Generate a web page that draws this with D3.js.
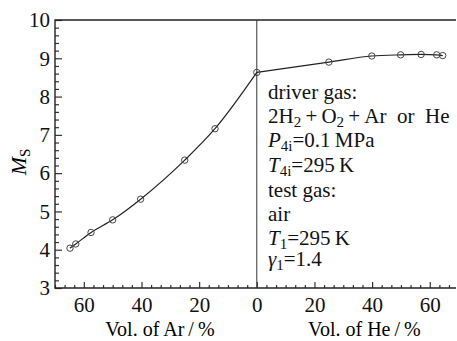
<!DOCTYPE html>
<html>
<head>
<meta charset="utf-8">
<script src="https://cdn.jsdelivr.net/npm/d3@7"></script>
<style>
  body { margin: 0; background: #fff; }
  svg { display: block; }
  text, tspan { font-family: "Liberation Serif" !important; }
</style>
</head>
<body>
<svg id="chart" width="457" height="341" font-family="Liberation Serif"></svg>
<script>
// Ar side: vol.% of Ar vs shock Mach number
const arVol = [0, 14.5, 25, 40.3, 50, 57.5, 62.8, 64.8];
const arMs  = [8.63, 7.16, 6.34, 5.32, 4.78, 4.45, 4.15, 4.04];
// He side
const heVol = [0, 25, 39.9, 49.9, 57, 62.4, 64.5];
const heMs  = [8.63, 8.90, 9.06, 9.09, 9.10, 9.09, 9.07];

const xMajor = [-60, -40, -20, 0, 20, 40, 60];
const yMajor = [3, 4, 5, 6, 7, 8, 9, 10];

const FONT = "Liberation Serif";
const svg = d3.select("#chart");
const mLeft = 55, mRight = 456, mTop = 20, mBottom = 288;

// Ar plotted to the left of zero, He to the right
const x = d3.scaleLinear().domain([-70, 69.1]).range([mLeft, mRight]);
const y = d3.scaleLinear().domain([3, 10]).range([mBottom, mTop]);

const xMinor = d3.range(-21, 21).map(i => i * 20 / 6).filter(v => v > -70.01 && v < 69.1 && !xMajor.some(m => Math.abs(m - v) < 1e-6));
const yMinor = d3.range(3, 10.001, 0.2).filter(v => !yMajor.some(m => Math.abs(m - v) < 1e-6));

// minor ticks
svg.append("g")
  .attr("transform", `translate(0,${mBottom})`)
  .call(d3.axisBottom(x).tickValues(xMinor).tickSize(-3).tickFormat(""))
  .call(g => g.select(".domain").remove());
svg.append("g")
  .attr("transform", `translate(${mLeft},0)`)
  .call(d3.axisLeft(y).tickValues(yMinor).tickSize(-4).tickFormat(""))
  .call(g => g.select(".domain").remove());

// major ticks + labels
svg.append("g")
  .attr("transform", `translate(0,${mBottom})`)
  .call(d3.axisBottom(x).tickValues(xMajor).tickSize(-6).tickPadding(9).tickFormat(d => Math.abs(d)))
  .call(g => g.select(".domain").remove());
svg.append("g")
  .attr("transform", `translate(${mLeft},0)`)
  .call(d3.axisLeft(y).tickValues(yMajor).tickSize(-7).tickPadding(5).tickFormat(d3.format("d")))
  .call(g => g.select(".domain").remove());

svg.selectAll("g").attr("font-family", FONT);
svg.selectAll(".tick line").attr("stroke", "#333").attr("stroke-width", 1.2);
svg.selectAll(".tick text").attr("font-size", 21).attr("fill", "#111");

// frame
svg.append("path")
  .attr("d", `M${mRight},${mTop}H${mLeft}V${mBottom}H${mRight}`)
  .attr("fill", "none").attr("stroke", "#222").attr("stroke-width", 1.4);
svg.append("line")
  .attr("x1", x(0)).attr("x2", x(0)).attr("y1", mTop).attr("y2", mBottom)
  .attr("stroke", "#333").attr("stroke-width", 1);

// curves
const line = d3.line().curve(d3.curveMonotoneX);
const arPts = arVol.map((v, i) => [x(-v), y(arMs[i])]).sort((a, b) => a[0] - b[0]);
const hePts = heVol.map((v, i) => [x(v), y(heMs[i])]);
svg.append("path").attr("d", line(arPts))
  .attr("fill", "none").attr("stroke", "#222").attr("stroke-width", 1.2);
svg.append("path").attr("d", line(hePts))
  .attr("fill", "none").attr("stroke", "#222").attr("stroke-width", 1.2);

svg.append("g").selectAll("circle")
  .data(arPts.concat(hePts.slice(1)))
  .join("circle")
  .attr("cx", d => d[0]).attr("cy", d => d[1]).attr("r", 3.2)
  .attr("fill", "none").attr("stroke", "#444").attr("stroke-width", 1);

// axis titles
svg.append("text").attr("x", (x(-70) + x(0)) / 2 + 4).attr("y", 336)
  .attr("text-anchor", "middle").attr("font-size", 20)
  .text("Vol. of Ar\u2009/\u2009%");
svg.append("text").attr("x", (x(0) + x(69.1)) / 2 + 8).attr("y", 336)
  .attr("text-anchor", "middle").attr("font-size", 20)
  .text("Vol. of He\u2009/\u2009%");

const ms = svg.append("text")
  .attr("transform", "translate(26,162) rotate(-90)")
  .attr("text-anchor", "middle").attr("font-size", 22);
ms.append("tspan").attr("font-style", "italic").text("M");
ms.append("tspan").attr("font-size", 15).attr("dy", 4).text("S");

// annotation block
const tx = 268;
const note = svg.append("g").attr("font-size", 21).attr("fill", "#111");
function addLine(yy, parts) {
  const t = note.append("text").attr("x", tx).attr("y", yy);
  parts.forEach(p => {
    const s = t.append("tspan").text(p.t);
    if (p.i) s.attr("font-style", "italic");
    if (p.sub) s.attr("font-size", 15).attr("dy", 4);
    if (p.up) s.attr("dy", -4);
  });
}
addLine(99, [{t: "driver gas:"}]);
addLine(123, [{t: "2H"}, {t: "2", sub: 1}, {t: "\u2009+\u2009O", up: 1}, {t: "2", sub: 1}, {t: "\u2009+\u2009Ar\u2002or\u2002He", up: 1}]);
addLine(147, [{t: "P", i: 1}, {t: "4i", sub: 1}, {t: "=0.1\u2009MPa", up: 1}]);
addLine(172, [{t: "T", i: 1}, {t: "4i", sub: 1}, {t: "=295\u2009K", up: 1}]);
addLine(197, [{t: "test gas:"}]);
addLine(221, [{t: "air"}]);
addLine(245, [{t: "T", i: 1}, {t: "1", sub: 1}, {t: "=295\u2009K", up: 1}]);
addLine(266, [{t: "\u03b3", i: 1}, {t: "1", sub: 1}, {t: "=1.4", up: 1}]);
</script>
</body>
</html>
